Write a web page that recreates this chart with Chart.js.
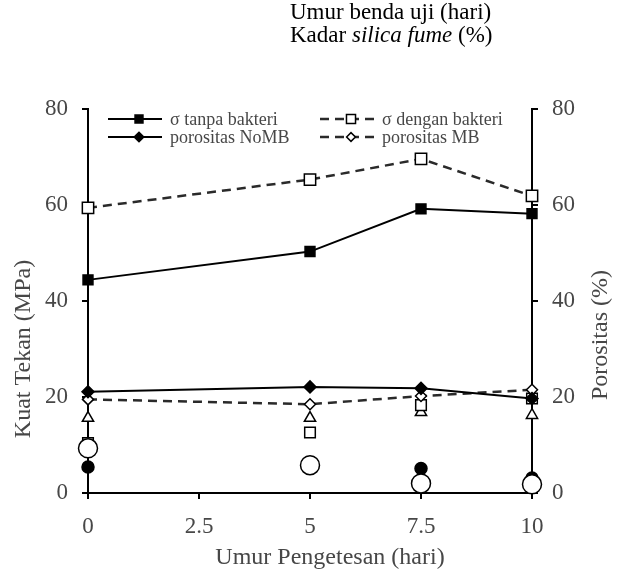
<!DOCTYPE html>
<html>
<head>
<meta charset="utf-8">
<script src="https://cdn.jsdelivr.net/npm/chart.js@4.4.1/dist/chart.umd.min.js"></script>
<style>
  body { margin: 0; background: #fff; }
  #wrap { position: relative; width: 621px; height: 574px; }
  canvas { position: absolute; left: 0; top: 0; }
  #note {
    position: absolute; left: 290px; top: 0px;
    font-family: "Liberation Serif", serif; font-size: 23px; line-height: 23px; color: #000;
  }
</style>
</head>
<body>
<div id="wrap">
  <canvas id="chart" width="621" height="574"></canvas>
  <div id="note">Umur benda uji (hari)<br>Kadar <i>silica fume</i> (%)</div>
</div>
<script>
// umur pengetesan (hari)
const UMUR = [0, 5, 7.5, 10];
const X_TICKS = [0, 2.5, 5, 7.5, 10];
const Y_TICKS = [0, 20, 40, 60, 80];

// kuat tekan (MPa)
const SIGMA_TANPA = [44.4, 50.3, 59.2, 58.2];
const SIGMA_DENGAN = [59.4, 65.3, 69.6, 61.9];
// porositas (%)
const PORO_NOMB = [21.1, 22.1, 21.8, 19.7];
const PORO_MB = [19.5, 18.5, 20.2, 21.5];
// titik tambahan tanpa garis
const SEGITIGA = [15.6, 15.6, 16.8, 16.2];
const KOTAK = [10.4, 12.6, 18.3, 19.7];
const BULAT_ISI = [5.4, null, 5.1, 3.1];
const BULAT_KOSONG = [9.3, 5.8, 2.0, 1.8];

const LEGEND_LABELS = ["\u03c3 tanpa bakteri", "\u03c3 dengan bakteri", "porositas NoMB", "porositas MB"];

const FONT = "'Liberation Serif', 'Times New Roman', serif";
const TEXT_COLOR = "#474747";
const DASH = [9, 6];

const toXY = (vals) => UMUR.map((x, i) => ({ x: x, y: vals[i] }));

function garis(label, vals, axis, dashed, style, radius, filled, order) {
  return {
    label: label,
    data: toXY(vals),
    yAxisID: axis,
    borderColor: dashed ? "#2a2a2a" : "#000",
    borderWidth: dashed ? 2.5 : 2,
    borderDash: dashed ? DASH : [],
    pointStyle: style,
    pointRadius: radius,
    pointBorderWidth: 1.5,
    pointBorderColor: "#000",
    pointBackgroundColor: filled ? "#000" : "#fff",
    showLine: true,
    clip: false,
    order: order,
  };
}

function titik(vals, style, radius, filled, order) {
  return {
    label: "",
    data: toXY(vals),
    yAxisID: "y1",
    showLine: false,
    pointStyle: style,
    pointRadius: radius,
    pointBorderWidth: 1.5,
    pointBorderColor: "#000",
    pointBackgroundColor: filled ? "#000" : "#fff",
    clip: false,
    order: order,
  };
}

const datasets = [
  garis(LEGEND_LABELS[0], SIGMA_TANPA, "y", false, "rect", 7, true, 1),
  garis(LEGEND_LABELS[1], SIGMA_DENGAN, "y", true, "rect", 8, false, 2),
  garis(LEGEND_LABELS[2], PORO_NOMB, "y1", false, "rectRot", 6, true, 3),
  garis(LEGEND_LABELS[3], PORO_MB, "y1", true, "rectRot", 5.5, false, 4),
  titik(BULAT_KOSONG, "circle", 9.5, false, 5),
  titik(BULAT_ISI, "circle", 6, true, 6),
  titik(KOTAK, "rect", 7.5, false, 7),
  titik(SEGITIGA, "triangle", 6.5, false, 8),
];

// legend di dalam area plot, dua kolom
const legendDalam = {
  id: "legendDalam",
  afterDraw(chart) {
    const ctx = chart.ctx;
    const a = chart.chartArea;
    const cols = [a.left + 20, a.left + 232];
    const rows = [a.top + 10, a.top + 28];
    ctx.save();
    ctx.font = "18px " + FONT;
    ctx.textBaseline = "middle";
    ctx.fillStyle = TEXT_COLOR;
    for (let i = 0; i < 4; i++) {
      const ds = chart.data.datasets[i];
      const x0 = cols[i % 2];
      const y0 = rows[Math.floor(i / 2)];
      ctx.save();
      ctx.strokeStyle = ds.borderColor;
      ctx.lineWidth = ds.borderWidth;
      ctx.setLineDash(ds.borderDash);
      ctx.beginPath();
      ctx.moveTo(x0, y0);
      ctx.lineTo(x0 + 54, y0);
      ctx.stroke();
      ctx.setLineDash([]);
      ctx.fillStyle = ds.pointBackgroundColor;
      ctx.strokeStyle = ds.pointBorderColor;
      ctx.lineWidth = ds.pointBorderWidth;
      Chart.helpers.drawPoint(ctx, {
        pointStyle: ds.pointStyle,
        radius: ds.pointRadius * 0.8,
        rotation: 0,
        borderWidth: ds.pointBorderWidth,
      }, x0 + 31, y0);
      ctx.restore();
      ctx.fillText(ds.label, x0 + 62, y0 + 1);
    }
    ctx.restore();
  },
};

// judul sumbu
const judulSumbu = {
  id: "judulSumbu",
  afterDraw(chart) {
    const ctx = chart.ctx;
    const a = chart.chartArea;
    ctx.save();
    ctx.font = "24px " + FONT;
    ctx.fillStyle = TEXT_COLOR;
    ctx.textAlign = "center";
    ctx.textBaseline = "middle";
    ctx.fillText("Umur Pengetesan (hari)", a.left + 242, a.bottom + 65);
    ctx.save();
    ctx.translate(24, a.top + 240);
    ctx.rotate(-Math.PI / 2);
    ctx.fillText("Kuat Tekan (MPa)", 0, 0);
    ctx.restore();
    ctx.save();
    ctx.translate(601, a.top + 226);
    ctx.rotate(-Math.PI / 2);
    ctx.fillText("Porositas (%)", 0, 0);
    ctx.restore();
    ctx.restore();
  },
};

const tickFont = { family: FONT, size: 23 };

function sumbuY(position, width) {
  return {
    type: "linear",
    position: position,
    min: 0,
    max: 80,
    afterBuildTicks: (s) => { s.ticks = Y_TICKS.map((v) => ({ value: v })); },
    afterFit: (s) => { s.width = width; },
    ticks: { font: tickFont, color: TEXT_COLOR, padding: 14 },
    grid: { drawOnChartArea: false, drawTicks: true, tickLength: 6, color: "#000", lineWidth: 2 },
    border: { display: true, color: "#000", width: 2 },
  };
}

new Chart(document.getElementById("chart"), {
  type: "line",
  data: { datasets: datasets },
  options: {
    responsive: false,
    animation: false,
    layout: { padding: { top: 109, left: 0, right: 0, bottom: 0 }, autoPadding: false },
    plugins: { legend: { display: false }, tooltip: { enabled: false } },
    scales: {
      x: {
        type: "linear",
        min: 0,
        max: 10,
        afterBuildTicks: (s) => { s.ticks = X_TICKS.map((v) => ({ value: v })); },
        afterFit: (s) => { s.height = 81; },
        ticks: { font: tickFont, color: TEXT_COLOR, padding: 14, maxRotation: 0,
                 callback: (v) => String(v) },
        grid: { drawOnChartArea: false, drawTicks: true, tickLength: 6, color: "#000", lineWidth: 2 },
        border: { display: true, color: "#000", width: 2 },
      },
      y: sumbuY("left", 88),
      y1: sumbuY("right", 89),
    },
  },
  plugins: [legendDalam, judulSumbu],
});
</script>
</body>
</html>
